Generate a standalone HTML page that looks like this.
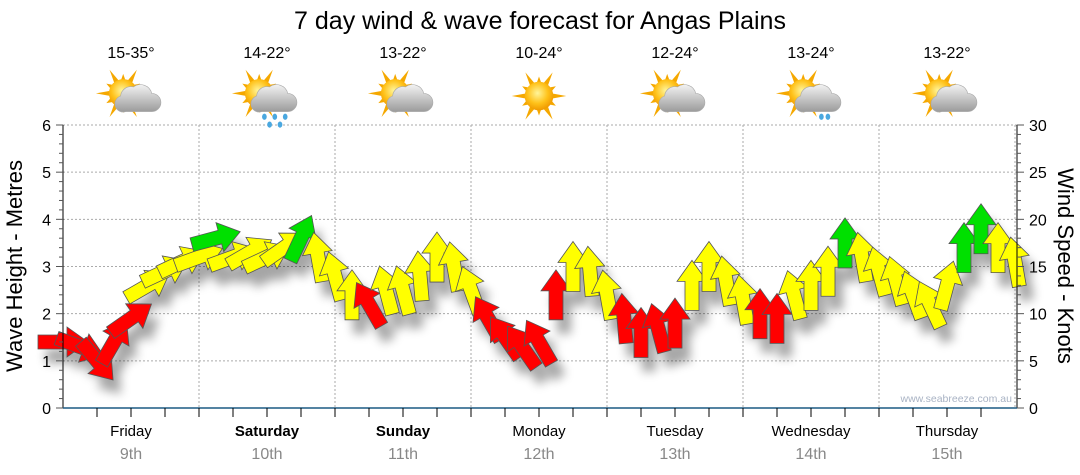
<!DOCTYPE html>
<html><head><meta charset="utf-8"><style>
body{margin:0;background:#fff;}
svg{display:block;font-family:"Liberation Sans","DejaVu Sans",sans-serif;}
</style></head><body>
<svg id="chart" width="1080" height="475" viewBox="0 0 1080 475">
<defs>
<filter id="sh" x="-50%" y="-50%" width="200%" height="200%"><feGaussianBlur stdDeviation="5"/></filter>
<radialGradient id="sun" cx="45%" cy="40%" r="60%"><stop offset="0" stop-color="#fff59a"/><stop offset="0.6" stop-color="#ffc21a"/><stop offset="1" stop-color="#f09a00"/></radialGradient>
<linearGradient id="cloud" x1="0" y1="0" x2="0" y2="1"><stop offset="0" stop-color="#f2f2f2"/><stop offset="1" stop-color="#9a9a9a"/></linearGradient>
</defs>
<text x="540" y="29" text-anchor="middle" font-size="25" fill="#000">7 day wind &amp; wave forecast for Angas Plains</text>
<g id="grid"></g>
<g id="shadows" filter="url(#sh)" opacity="0.35"></g>
<g id="arrows"></g>
<g id="axes"></g>
<g id="icons"></g>
<text transform="translate(22,266) rotate(-90)" text-anchor="middle" font-size="22" fill="#000">Wave Height - Metres</text>
<text transform="translate(1058,266) rotate(90)" text-anchor="middle" font-size="22" fill="#000">Wind Speed - Knots</text>
<text x="1012" y="402" text-anchor="end" font-size="10.5" fill="#a9b3c4">www.seabreeze.com.au</text>
</svg>
<script>
const days = ["Friday","Saturday","Sunday","Monday","Tuesday","Wednesday","Thursday"];
const dates = ["9th","10th","11th","12th","13th","14th","15th"];
const temps = ["15-35°","14-22°","13-22°","10-24°","12-24°","13-24°","13-22°"];
const iconTypes = ["cloud","rain","cloud","sun","cloud","shower","cloud"];
const boldDays = [false,true,true,false,false,false,false];
const waveTicks = [0,1,2,3,4,5,6];
const windTicks = [0,5,10,15,20,25,30];
// wind every 3 hours from Friday 00:00
const windSpeed = [7,6.5,5,7,9.5,13,14.5,15.5,16,18,16,16.5,16,17,18,16,14,12,11,12.5,12.5,14,16,15,12.5,9.5,7.5,6.5,7,12,15,14.5,12,9.5,8,8.5,9,13,15,13.5,11.5,10,9.5,12,13,14.5,17.5,16,14.5,13.5,12,11,13,17,19,17,15.5];
const windDir = [90,110,140,30,55,60,65,65,70,75,70,60,65,55,25,-10,-15,0,-30,-15,-15,-5,0,-10,-20,-30,-35,-35,-30,0,0,-5,-10,-5,0,-15,0,0,0,-10,-10,0,0,-15,0,0,0,-10,-15,-15,-20,-25,15,0,0,0,-10];
const windClass = ["r","r","r","r","r","y","y","y","y","g","y","y","y","y","g","y","y","y","r","y","y","y","y","y","y","r","r","r","r","r","y","y","y","r","r","r","r","y","y","y","y","r","r","y","y","y","g","y","y","y","y","y","y","g","g","y","y"];

const NS="http://www.w3.org/2000/svg";
const X0=63,X1=1017,Y0=408,YT=125,DAYW=136;
const xH=h=>X0+h/24*DAYW;
const yWave=m=>Y0-(Y0-YT)*m/6;
const yWind=k=>Y0-(Y0-YT)*k/30;
const colors={r:"#ff0000",y:"#ffff00",g:"#00e000"};
function mk(tag,attrs,parent){const e=document.createElementNS(NS,tag);for(const k in attrs)e.setAttribute(k,attrs[k]);parent.appendChild(e);return e;}
const grid=document.getElementById('grid'),axes=document.getElementById('axes');
waveTicks.forEach(v=>{if(v>0){const l=mk('line',{x1:X0,x2:X1,y1:yWave(v),y2:yWave(v),stroke:'#aaa','stroke-dasharray':'2,2'},grid);

}});
for(let d=1;d<=7;d++){const x=X0+d*DAYW;if(x<X1){const l=mk('line',{x1:x,x2:x,y1:YT,y2:Y0,stroke:'#aaa','stroke-dasharray':'2,2'},grid);

}}
mk('line',{x1:X0,x2:X0,y1:YT,y2:Y0,stroke:'#000'},axes);
mk('line',{x1:X1,x2:X1,y1:YT,y2:Y0,stroke:'#000'},axes);
mk('line',{x1:X0,x2:X1,y1:Y0,y2:Y0,stroke:'#1b5a84','stroke-width':1.5},axes);
for(let i=0;i<=30;i++){const y=yWave(i*0.2);mk('line',{x1:X0-(i%5?4:7),x2:X0,y1:y,y2:y,stroke:'#555'},axes);}
for(let i=0;i<=30;i++){const y=yWind(i);mk('line',{x1:X1,x2:X1+(i%5?4:7),y1:y,y2:y,stroke:'#555'},axes);}
waveTicks.forEach(v=>{const t=mk('text',{x:X0-12,y:yWave(v)+6,'text-anchor':'end','font-size':16},axes);t.textContent=v;

});
windTicks.forEach(v=>{const t=mk('text',{x:X1+12,y:yWind(v)+6,'font-size':16},axes);t.textContent=v;

});
for(let h=6;h<168;h+=6){const x=xH(h);if(x<X1)mk('line',{x1:x,x2:x,y1:Y0,y2:Y0+9,stroke:'#000'},axes);}
days.forEach((d,i)=>{const cx=X0+DAYW*(i+0.5);
const t=mk('text',{x:cx,y:436,'text-anchor':'middle','font-size':15,'font-weight':boldDays[i]?'bold':'normal'},axes);t.textContent=d;


const t2=mk('text',{x:cx,y:459,'text-anchor':'middle','font-size':16,fill:'#888'},axes);t2.textContent=dates[i];


const t3=mk('text',{x:cx,y:58,'text-anchor':'middle','font-size':16},axes);t3.textContent=temps[i];


drawIcon(cx,96,iconTypes[i]);});
function drawIcon(cx,cy,type){const g=mk('g',{transform:`translate(${cx},${cy}) scale(1.3)`},document.getElementById('icons'));


const sx=type==='sun'?0:-6,sy=type==='sun'?0:-2;
for(let a=0;a<360;a+=30){const r=a*Math.PI/180,L=a%60?15:21;
mk('polygon',{points:`${sx+Math.cos(r)*L},${sy+Math.sin(r)*L} ${sx+Math.cos(r+0.25)*9},${sy+Math.sin(r+0.25)*9} ${sx+Math.cos(r-0.25)*9},${sy+Math.sin(r-0.25)*9}`,fill:'#f5a800'},g);}
mk('circle',{cx:sx,cy:sy,r:11,fill:'url(#sun)'},g);
if(type!=='sun'){mk('path',{d:'M-4,12 h20 a7,7 0 0 0 0,-14 a9,9 0 0 0 -14,-5 a8,8 0 0 0 -10,7 a6,6 0 0 0 4,12 z',fill:'url(#cloud)',stroke:'#aaa','stroke-width':0.5},g);}
if(type==='rain'||type==='shower'){const drops=type==='rain'?[[-2,16],[6,16],[14,16],[2,22],[10,22]]:[[8,16],[13,16]];
drops.forEach(p=>mk('ellipse',{cx:p[0],cy:p[1],rx:1.8,ry:2.4,fill:'#4aa8e0'},g));}}
const arrowPts="0,-25 15,-4 7,-4 7,25 -7,25 -7,-4 -15,-4";
const arr=document.getElementById('arrows'),sh=document.getElementById('shadows');
windSpeed.forEach((k,i)=>{const x=xH(i*3),y=yWind(k);
mk('polygon',{points:arrowPts,transform:`translate(${x+8},${y+14}) rotate(${windDir[i]})`,fill:'#000'},sh);
const p=mk('polygon',{points:arrowPts,transform:`translate(${x},${y}) rotate(${windDir[i]})`,fill:colors[windClass[i]],stroke:'#555','stroke-width':0.8},arr);

});
</script>
</body></html>
